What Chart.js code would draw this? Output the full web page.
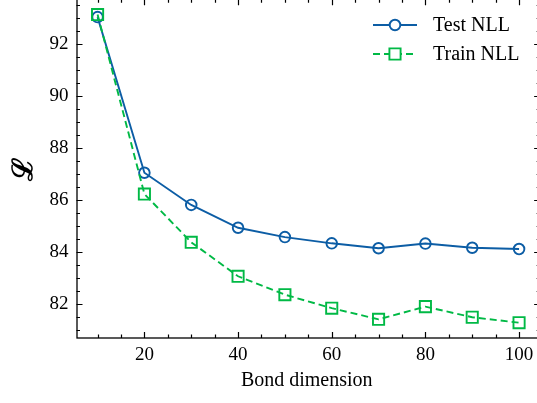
<!DOCTYPE html>
<html><head><meta charset="utf-8">
<script src="https://cdn.jsdelivr.net/npm/chart.js@4"></script>
<style>html,body{margin:0;padding:0;background:#fff}</style>
</head><body>
<canvas id="c" width="537" height="403"></canvas>
<script>
const bondDims = [10, 20, 30, 40, 50, 60, 70, 80, 90, 100];
const testNLL = [93.05, 87.05, 85.81, 84.93, 84.57, 84.33, 84.14, 84.32, 84.16, 84.11];
const trainNLL = [93.15, 86.23, 84.37, 83.06, 82.35, 81.83, 81.40, 81.89, 81.48, 81.27];
const xTicks = [20, 40, 60, 80, 100];
const xMinorTicks = [10, 15, 25, 30, 35, 45, 50, 55, 65, 70, 75, 85, 90, 95];
const yTicks = [82, 84, 86, 88, 90, 92];
const yMinorTicks = [81, 81.5, 82.5, 83, 83.5, 84.5, 85, 85.5, 86.5, 87, 87.5, 88.5, 89, 89.5, 90.5, 91, 91.5, 92.5, 93, 93.5];
const xLimits = [5.5, 104.5];   // full axis limits (frame); canvas clips right edge
const yLimits = [80.68, 93.74];
const seriesNames = ['Test NLL', 'Train NLL'];
const xLabel = 'Bond dimension';
const yLabel = 'ℒ';

const BLUE = '#0C5DA5', GREEN = '#00B945';
const SERIF = "'Liberation Serif', 'Times New Roman', serif";

const inTicks = {
  id: 'inTicks',
  afterDraw(chart) {
    const {ctx, chartArea: a, scales: {x, y}} = chart;
    const left = a.left, bottom = a.bottom;
    const right = x.getPixelForValue(xLimits[1]);
    const top = y.getPixelForValue(yLimits[1]);
    ctx.save();
    ctx.strokeStyle = '#000';
    ctx.lineWidth = 1.2;
    ctx.beginPath();
    const vt = (v, len) => {
      const px = Math.round(x.getPixelForValue(v)) + 0.5;
      ctx.moveTo(px, bottom); ctx.lineTo(px, bottom - len);
      ctx.moveTo(px, top); ctx.lineTo(px, top + len);
    };
    const ht = (v, len) => {
      const py = Math.round(y.getPixelForValue(v)) + 0.5;
      ctx.moveTo(left, py); ctx.lineTo(left + len, py);
      ctx.moveTo(right, py); ctx.lineTo(right - len, py);
    };
    xTicks.forEach(v => vt(v, 6));
    xMinorTicks.forEach(v => vt(v, 3.5));
    yTicks.forEach(v => ht(v, 6));
    yMinorTicks.forEach(v => ht(v, 3.5));
    ctx.stroke();
    ctx.lineWidth = 1.3;
    ctx.strokeRect(left + 0.5, top, right - left, bottom - top);
    ctx.restore();
  }
};

const legendPlugin = {
  id: 'customLegend',
  afterDraw(chart) {
    const {ctx} = chart;
    ctx.save();
    const rows = [25, 54];
    chart.data.datasets.forEach((ds, i) => {
      const yy = rows[i];
      ctx.strokeStyle = ds.borderColor;
      ctx.lineWidth = ds.borderWidth;
      ctx.setLineDash(ds.borderDash || []);
      ctx.beginPath();
      ctx.moveTo(373, yy); ctx.lineTo(417, yy);
      ctx.stroke();
      ctx.setLineDash([]);
      ctx.lineWidth = ds.pointBorderWidth;
      ctx.beginPath();
      if (ds.pointStyle === 'circle') {
        ctx.arc(395, yy, ds.pointRadius, 0, Math.PI * 2);
      } else {
        const h = ds.pointRadius * Math.SQRT1_2;
        ctx.rect(395 - h, yy - h, 2 * h, 2 * h);
      }
      ctx.fillStyle = '#fff';
      ctx.fill();
      ctx.stroke();
      ctx.fillStyle = '#000';
      ctx.font = '20px ' + SERIF;
      ctx.textBaseline = 'middle';
      ctx.textAlign = 'left';
      ctx.fillText(ds.label, 433, yy + 1);
    });
    ctx.restore();
  }
};

new Chart(document.getElementById('c'), {
  type: 'line',
  data: {
    datasets: [
      {
        label: seriesNames[0],
        data: bondDims.map((d, i) => ({x: d, y: testNLL[i]})),
        borderColor: BLUE, backgroundColor: 'transparent',
        borderWidth: 1.9, pointStyle: 'circle', pointRadius: 5.3,
        pointBorderWidth: 1.9, pointBorderColor: BLUE, pointBackgroundColor: 'rgba(0,0,0,0)',
        tension: 0, fill: false, order: 2, clip: false
      },
      {
        label: seriesNames[1],
        data: bondDims.map((d, i) => ({x: d, y: trainNLL[i]})),
        borderColor: GREEN, backgroundColor: 'transparent',
        borderWidth: 1.9, borderDash: [7, 4], pointStyle: 'rect', pointRadius: 7.9,
        pointBorderWidth: 1.9, pointBorderColor: GREEN, pointBackgroundColor: 'rgba(0,0,0,0)',
        tension: 0, fill: false, order: 1, clip: false
      }
    ]
  },
  options: {
    responsive: false,
    animation: false,
    devicePixelRatio: 1,
    layout: {autoPadding: false, padding: 0},
    plugins: {legend: {display: false}, tooltip: {enabled: false}},
    scales: {
      x: {
        type: 'linear', min: xLimits[0], max: 103.83,
        afterBuildTicks: s => { s.ticks = xTicks.map(v => ({value: v})); },
        afterFit: s => { s.height = 65; s.paddingLeft = 0; s.paddingRight = 0; },
        grid: {display: false, drawTicks: false},
        border: {display: false},
        ticks: {color: '#000', font: {family: SERIF, size: 19}, padding: 6, maxRotation: 0, autoSkip: false},
        title: {display: true, text: xLabel, color: '#000', font: {family: SERIF, size: 20}, padding: {top: 0, bottom: 10}}
      },
      y: {
        type: 'linear', min: yLimits[0], max: 93.71,
        afterBuildTicks: s => { s.ticks = yTicks.map(v => ({value: v})); },
        afterFit: s => { s.width = 76.5; s.paddingTop = 0; s.paddingBottom = 0; },
        grid: {display: false, drawTicks: false},
        border: {display: false},
        ticks: {color: '#000', font: {family: SERIF, size: 19}, padding: 8, autoSkip: false},
        title: {display: true, text: yLabel, color: '#000', font: {family: "'DejaVu Serif', serif", size: 28, weight: 'bold'}, padding: {top: 8, bottom: 0}}
      }
    }
  },
  plugins: [inTicks, legendPlugin]
});
</script>
</body></html>
